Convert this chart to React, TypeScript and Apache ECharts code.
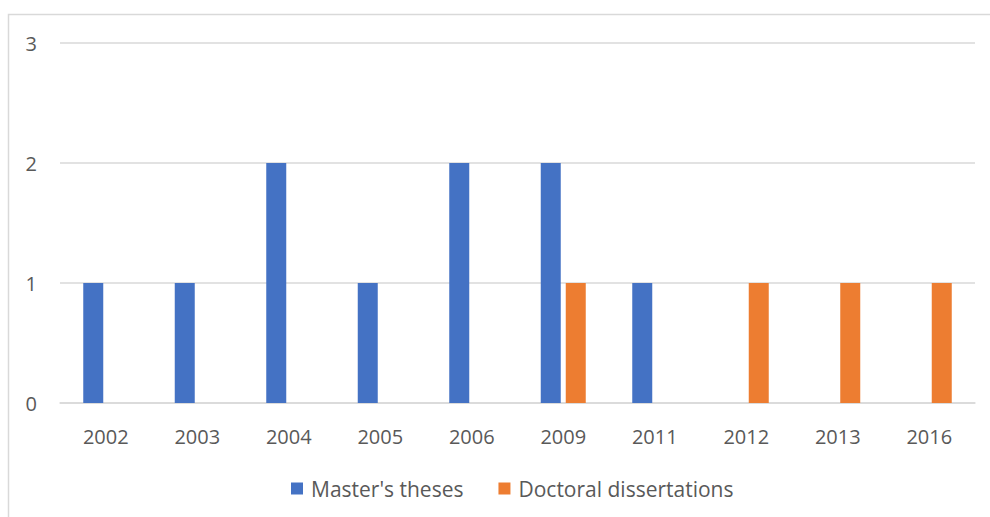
import React, { useEffect, useRef } from "react";
import * as echarts from "echarts";

const categories = ["2002", "2003", "2004", "2005", "2006", "2009", "2011", "2012", "2013", "2016"];
const mastersTheses = [1, 1, 2, 1, 2, 2, 1, 0, 0, 0];
const doctoralDissertations = [0, 0, 0, 0, 0, 1, 0, 1, 1, 1];
const seriesNames = ["Master's theses", "Doctoral dissertations"];

const FONT = "'Open Sans', 'Liberation Sans', sans-serif";
const TEXT = "#595959";

export default function App() {
  const ref = useRef<HTMLDivElement>(null);
  useEffect(() => {
    if (!ref.current) return;
    const chart = echarts.init(ref.current, null, { renderer: "svg" });
    chart.setOption({
      animation: false,
      backgroundColor: "#ffffff",
      textStyle: { fontFamily: FONT },
      graphic: [
        {
          type: "rect",
          shape: { x: 8.5, y: 14.5, width: 1100, height: 700 },
          style: { fill: "none", stroke: "#d9d9d9", lineWidth: 1.5 },
          silent: true,
        },
      ],
      grid: { left: 60, right: 15, top: 43, bottom: 114, containLabel: false },
      legend: {
        top: 473,
        left: 286,
        padding: 5,
        itemWidth: 12,
        itemHeight: 12,
        itemGap: 35,
        icon: "rect",
        textStyle: { color: TEXT, fontSize: 21, fontFamily: FONT, padding: [0, 0, 0, 3] },
        data: seriesNames,
      },
      xAxis: {
        type: "category",
        data: categories,
        axisLine: { show: true, lineStyle: { color: "#d9d9d9", width: 1.5 } },
        axisTick: { show: false },
        axisLabel: { color: TEXT, fontSize: 20, margin: 23, fontFamily: FONT },
      },
      yAxis: {
        type: "value",
        min: 0,
        max: 3,
        interval: 1,
        axisLine: { show: false },
        axisTick: { show: false },
        axisLabel: { color: TEXT, fontSize: 20, margin: 23, fontFamily: FONT },
        splitLine: { lineStyle: { color: "#d9d9d9", width: 1.5 } },
      },
      series: [
        {
          name: seriesNames[0],
          type: "bar",
          data: mastersTheses,
          barWidth: 20,
          barGap: "25%",
          itemStyle: { color: "#4472C4" },
        },
        {
          name: seriesNames[1],
          type: "bar",
          data: doctoralDissertations,
          barWidth: 20,
          barGap: "25%",
          itemStyle: { color: "#ED7D31" },
        },
      ],
    });
    return () => chart.dispose();
  }, []);
  return (
    <div
      ref={ref}
      style={{ position: "fixed", left: 0, top: 0, width: 990, height: 517 }}
    />
  );
}
